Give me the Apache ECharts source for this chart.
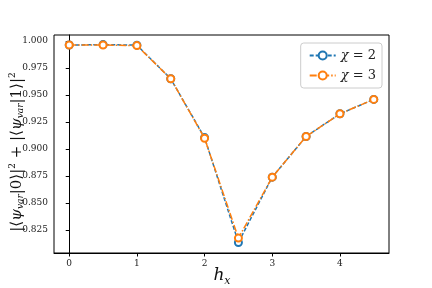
<!DOCTYPE html>
<html><head><meta charset="utf-8">
<script src="https://cdn.jsdelivr.net/npm/echarts@6/dist/echarts.min.js"></script>
<style>html,body{margin:0;padding:0;background:#fff}#c{width:432px;height:288px}</style>
</head><body><div id="c"></div>
<script>
const hx = [0, 0.5, 1, 1.5, 2, 2.5, 3, 3.5, 4, 4.5];
const chi2 = [0.9962, 0.9966, 0.9961, 0.9650, 0.9106, 0.8135, 0.8740, 0.9116, 0.9326, 0.9459];
const chi3 = [0.9962, 0.9963, 0.9957, 0.9650, 0.9100, 0.8176, 0.8740, 0.9116, 0.9326, 0.9459];
const xTicks = [0, 1, 2, 3, 4];
const yTicks = [0.825, 0.85, 0.875, 0.9, 0.925, 0.95, 0.975, 1.0];
const seriesNames = ['χ = 2', 'χ = 3'];
const colors = ['#1f77b4', '#ff7f0e'];

const serif = '"DejaVu Serif", "Liberation Serif", serif';
const chart = echarts.init(document.getElementById('c'), null, {renderer: 'canvas'});
function mk(name, vals, color, dash, z) {
  return {
    name: name, type: 'line', data: hx.map((x, i) => [x, vals[i]]),
    symbol: 'emptyCircle', symbolSize: 7, z: z,
    lineStyle: {color: color, width: 1.5, type: dash},
    itemStyle: {color: color, borderColor: color, borderWidth: 1},
    emphasis: {disabled: true}
  };
}
const LH = 17;
chart.setOption({
  animation: false,
  grid: {left: 54, right: 43, top: 35, bottom: 35, show: true, borderColor: '#000', borderWidth: 1, backgroundColor: 'transparent'},
  xAxis: {
    type: 'value', min: -0.225, max: 4.725,
    splitLine: {show: false},
    axisLine: {show: true, lineStyle: {color: '#000', width: 1}},
    axisTick: {show: true, length: 3.5, inside: false, customValues: xTicks, lineStyle: {color: '#000'}},
    axisLabel: {customValues: xTicks, color: '#222', fontFamily: serif, fontSize: 9, margin: 6, formatter: v => String(v)}
  },
  yAxis: {
    type: 'value', min: 0.8038, max: 1.0055,
    splitLine: {show: false},
    axisLine: {show: true, lineStyle: {color: '#000', width: 1}},
    axisTick: {show: true, length: 3.5, customValues: yTicks, lineStyle: {color: '#000'}},
    axisLabel: {customValues: yTicks, color: '#222', fontFamily: serif, fontSize: 9, margin: 6, formatter: v => v.toFixed(3)}
  },
  legend: {
    right: 50, top: 43, orient: 'vertical', itemGap: 7, itemWidth: 26, itemHeight: 10,
    borderColor: '#ccc', borderWidth: 1, borderRadius: 3, padding: [6, 6, 6, 8],
    backgroundColor: 'rgba(255,255,255,0.8)',
    formatter: n => '{i|χ}{r| ' + n.slice(2) + '}',
    textStyle: {fontFamily: serif, fontSize: 13, color: '#222', rich: {i: {fontStyle: 'italic', fontFamily: serif, fontSize: 13}, r: {fontFamily: serif, fontSize: 13}}},
    data: seriesNames
  },
  series: [mk(seriesNames[0], chi2, colors[0], [4, 2], 2), mk(seriesNames[1], chi3, colors[1], [7, 2, 1.5, 2], 3)],
  graphic: [
    {type: 'text', x: 222, y: 276, style: {text: '{h|h}{s|x}', align: 'center', verticalAlign: 'middle', rich: {h: {fontFamily: serif, fontStyle: 'italic', fontSize: 17, fill: '#111', lineHeight: 22}, s: {fontFamily: serif, fontStyle: 'italic', fontSize: 11, fill: '#111', lineHeight: 22, verticalAlign: 'bottom'}}}},
    {type: 'text', x: 17, y: 152, rotation: Math.PI / 2,
     style: {text: '{n||⟨}{i|ψ}{s|var}{n||0⟩|}{p|2}{n| + |⟨}{i|ψ}{s|var}{n||1⟩|}{p|2}', align: 'center', verticalAlign: 'middle',
       fill: '#111',
       rich: {n: {fontFamily: serif, fontSize: 15, lineHeight: LH, verticalAlign: 'middle'},
              i: {fontFamily: serif, fontStyle: 'italic', fontSize: 15, lineHeight: LH, verticalAlign: 'middle'},
              s: {fontFamily: serif, fontStyle: 'italic', fontSize: 9, lineHeight: LH, verticalAlign: 'bottom'},
              p: {fontFamily: serif, fontSize: 9, lineHeight: LH, verticalAlign: 'top'}}}}
  ]
});
</script></body></html>
